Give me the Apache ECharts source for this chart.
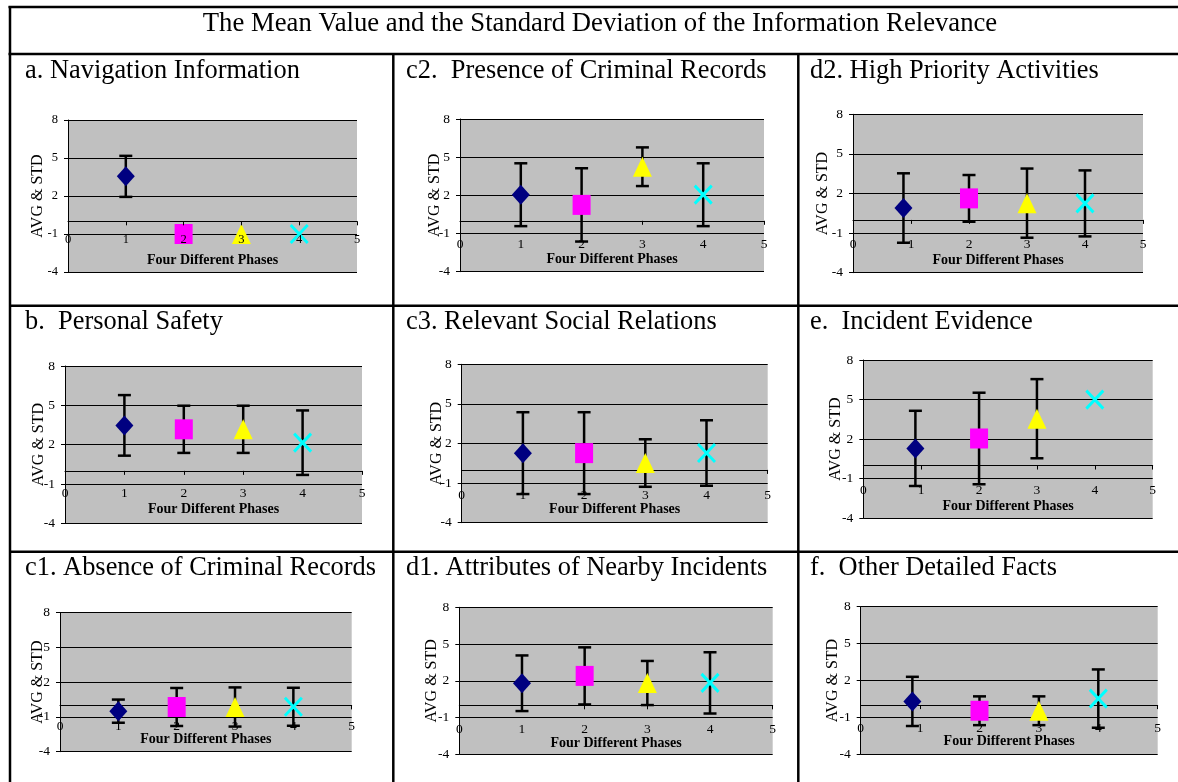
<!DOCTYPE html>
<html><head><meta charset="utf-8">
<script src="https://cdn.jsdelivr.net/npm/echarts@6/dist/echarts.min.js"></script>
<style>html,body{margin:0;padding:0;background:#fff}#c{width:1178px;height:782px}</style>
</head><body><div id="c"></div>
<script>
// ---------------- data ----------------
const tableTitle = 'The Mean Value and the Standard Deviation of the Information Relevance';
const panelTitles = [
  'a. Navigation Information', 'c2.  Presence of Criminal Records', 'd2. High Priority Activities',
  'b.  Personal Safety', 'c3. Relevant Social Relations', 'e.  Incident Evidence',
  'c1. Absence of Criminal Records', 'd1. Attributes of Nearby Incidents', 'f.  Other Detailed Facts'
];
const xAxisTitle = 'Four Different Phases';
const yAxisTitle = 'AVG & STD';
const yTicks = [-4, -1, 2, 5, 8];
const xTicks = [0, 1, 2, 3, 4, 5];
// phase position of each marker (phase 1..4) per panel
const phaseX = [
  [1, 2, 3, 4], [1, 2, 3, 4], [0.87, 2, 3, 4],
  [1, 2, 3, 4], [1, 2, 3, 4], [0.9, 2, 3, 4],
  [1, 2, 3, 4], [1, 2, 3, 4], [0.87, 2, 3, 4]
];
const meanVals = [
  [3.55, -1, -1, -1], [2.05, 1.25, 4.25, 2.05], [0.9, 1.63, 1.27, 1.25],
  [3.47, 3.17, 3.17, 2.15], [1.27, 1.27, 0.52, 1.28], [1.3, 2.05, 3.55, 5.0],
  [-0.5, -0.14, -0.14, -0.12], [1.8, 2.4, 1.82, 1.83], [0.3, -0.46, -0.46, 0.53]
];
const stdVals = [
  [1.62, null, null, null], [2.47, 2.88, 1.52, 2.47], [2.63, 1.77, 2.62, 2.5],
  [2.31, 1.8, 1.8, 2.46], [3.1, 3.1, 1.8, 2.48], [2.85, 3.47, 3.0, null],
  [1.0, 1.64, 1.69, 1.64], [2.27, 2.33, 1.8, 2.5], [2.0, 1.17, 1.17, 2.37]
];

// ---------------- layout / style ----------------
const FONT = "'Liberation Serif', 'Times New Roman', serif";
const gridBoxes = [
  [68, 120, 289, 152], [460, 119, 304, 152.7], [853, 114.3, 290, 158.4],
  [65, 366, 297, 157.3], [461.7, 364.3, 306, 158.4], [863.3, 360, 289.4, 158.3],
  [60, 612.7, 291.7, 139], [459.3, 607.3, 313.4, 147], [860.7, 606.7, 297, 147.6]
];
const xLabelMargin = [12, 17, 18, 16, 18.5, 18, 14, 17, 16];
const xNameGap = [31.6, 31.6, 33.6, 31.6, 32.3, 33.6, 27, 31, 29];
const yNameGap = [22, 17, 22, 18, 17, 19.6, 14, 19.6, 20];
const tickFont = [12.5, 13.5, 13.5, 13.5, 13.5, 13.5, 13.5, 13.5, 13.5];
const titlePos = [
  [25, 71], [406, 71], [810, 71],
  [25, 322], [406, 322], [810, 322],
  [25, 568], [406, 568], [810, 568]
];
const symbols = ['diamond', 'rect', 'triangle', 'path://M0,0L10,10M10,0L0,10'];
const symColors = ['#000080', '#FF00FF', '#FFFF00', '#00FFFF'];
const symSizes = [[18, 20], [18, 20], [19, 20], [17, 18]];

const chart = echarts.init(document.getElementById('c'), null, {renderer: 'canvas'});

const yMin = yTicks[0], yMax = yTicks[yTicks.length - 1];
const grids = [], xAxes = [], yAxes = [], series = [];
gridBoxes.forEach((b, i) => {
  grids.push({left: b[0], top: b[1], width: b[2], height: b[3], show: true,
    backgroundColor: '#C0C0C0', borderWidth: 0, containLabel: false, outerBoundsMode: 'none'});
  // the phase axis crosses the value axis at 0: shift the whole axis (line, ticks, labels, name) there
  const zeroShift = -b[3] * (0 - yMin) / (yMax - yMin);
  xAxes.push({
    gridIndex: i, type: 'value', position: 'bottom', offset: zeroShift,
    min: xTicks[0], max: xTicks[xTicks.length - 1], interval: xTicks[1] - xTicks[0],
    z: i === 0 ? 5 : 0,
    axisLine: {show: true, onZero: false, lineStyle: {color: '#000', width: 1}},
    axisTick: {show: true, inside: false, length: 4, lineStyle: {color: '#000', width: 1}},
    axisLabel: {color: '#000', fontFamily: FONT, fontSize: tickFont[i], margin: xLabelMargin[i]},
    splitLine: {show: false},
    name: xAxisTitle, nameLocation: 'middle', nameGap: xNameGap[i], nameMoveOverlap: false,
    nameTextStyle: {color: '#000', fontFamily: FONT, fontSize: 14, fontWeight: 'bold'}
  });
  yAxes.push({
    gridIndex: i, type: 'value', min: yMin, max: yMax, interval: yTicks[1] - yTicks[0],
    axisLine: {show: true, onZero: false, lineStyle: {color: '#000', width: 1}},
    axisTick: {show: true, inside: false, length: 4, lineStyle: {color: '#000', width: 1}},
    axisLabel: {color: '#000', fontFamily: FONT, fontSize: tickFont[i], margin: 10},
    splitLine: {show: true, showMinLine: true, showMaxLine: true, lineStyle: {color: '#000', width: 1}},
    name: yAxisTitle, nameLocation: 'middle', nameGap: yNameGap[i], nameRotate: 90, nameMoveOverlap: false,
    nameTextStyle: {color: '#000', fontFamily: FONT, fontSize: 16}
  });
  // error bars
  const errData = [];
  phaseX[i].forEach((x, j) => { if (stdVals[i][j] != null) errData.push([x, meanVals[i][j], stdVals[i][j]]); });
  series.push({
    type: 'custom', xAxisIndex: i, yAxisIndex: i, silent: true, z: 2,
    encode: {x: 0, y: 1},
    data: errData,
    renderItem: function (params, api) {
      const x = api.value(0), m = api.value(1), s = api.value(2);
      const t = api.coord([x, m + s]);
      const bt = api.coord([x, m - s]);
      const hw = 6.5;
      const st = {stroke: '#000', lineWidth: 2.5};
      return {type: 'group', children: [
        {type: 'line', shape: {x1: t[0], y1: t[1], x2: bt[0], y2: bt[1]}, style: st},
        {type: 'line', shape: {x1: t[0] - hw, y1: t[1], x2: t[0] + hw, y2: t[1]}, style: st},
        {type: 'line', shape: {x1: bt[0] - hw, y1: bt[1], x2: bt[0] + hw, y2: bt[1]}, style: st}
      ]};
    }
  });
  for (let j = 0; j < 4; j++) {
    const isX = j === 3;
    series.push({
      type: 'scatter', xAxisIndex: i, yAxisIndex: i, silent: true, z: 3,
      symbol: symbols[j], symbolSize: symSizes[j],
      itemStyle: isX ? {color: 'rgba(0,0,0,0)', borderColor: symColors[j], borderWidth: 3, opacity: 1}
                     : {color: symColors[j], opacity: 1},
      data: [[phaseX[i][j], meanVals[i][j]]]
    });
  }
});

const lineStyle = {stroke: '#000', lineWidth: 2.5};
const graphics = [
  {type: 'line', shape: {x1: 8.5, y1: 7, x2: 1178, y2: 7}, style: lineStyle},
  {type: 'line', shape: {x1: 8.5, y1: 54, x2: 1178, y2: 54}, style: lineStyle},
  {type: 'line', shape: {x1: 10, y1: 6, x2: 10, y2: 782}, style: lineStyle},
  {type: 'line', shape: {x1: 393.3, y1: 54, x2: 393.3, y2: 782}, style: lineStyle},
  {type: 'line', shape: {x1: 798.3, y1: 54, x2: 798.3, y2: 782}, style: lineStyle},
  {type: 'line', shape: {x1: 10, y1: 305.8, x2: 1178, y2: 305.8}, style: lineStyle},
  {type: 'line', shape: {x1: 10, y1: 551.7, x2: 1178, y2: 551.7}, style: lineStyle},
  {type: 'text', x: 600, y: 23.5, style: {text: tableTitle, font: '26.7px ' + FONT, fill: '#000',
    textAlign: 'center', textVerticalAlign: 'middle'}}
];
panelTitles.forEach((t, i) => {
  graphics.push({type: 'text', x: titlePos[i][0], y: titlePos[i][1],
    style: {text: t, font: '26.4px ' + FONT, fill: '#000', textAlign: 'left', textVerticalAlign: 'middle'}});
});

chart.setOption({
  animation: false,
  backgroundColor: '#fff',
  grid: grids, xAxis: xAxes, yAxis: yAxes, series: series,
  graphic: graphics
});
</script></body></html>
